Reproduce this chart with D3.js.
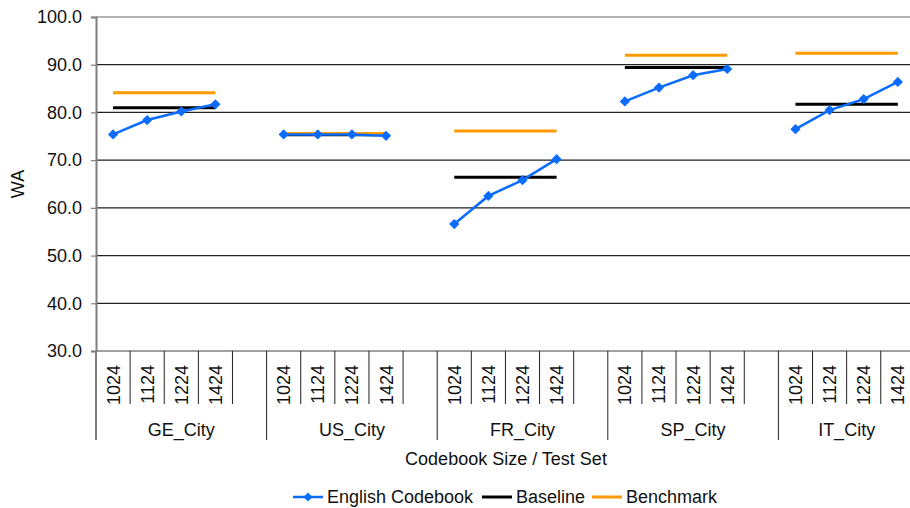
<!DOCTYPE html>
<html>
<head>
<meta charset="utf-8">
<script src="https://cdn.jsdelivr.net/npm/d3@7"></script>
<style>
  html, body { margin: 0; padding: 0; background: #fff; }
  svg { display: block; font-family: "Liberation Sans", Arial, Helvetica, sans-serif; }
</style>
</head>
<body>
<svg id="chart" width="910" height="508"></svg>
<script>
// Test sets and codebook sizes
const testSets = ["GE_City", "US_City", "FR_City", "SP_City", "IT_City"];
const codebookSizes = ["1024", "1124", "1224", "1424"];

// Word accuracy (WA) per test set, one value per codebook size
const englishCodebook = [
  [75.4, 78.4, 80.2, 81.7],
  [75.4, 75.4, 75.4, 75.1],
  [56.6, 62.5, 65.8, 70.2],
  [82.3, 85.2, 87.8, 89.1],
  [76.5, 80.5, 82.8, 86.4]
];
const baseline  = [81.0, 75.3, 66.4, 89.4, 81.7];
const benchmark = [84.1, 75.6, 76.1, 92.0, 92.4];

const yTicks = [30, 40, 50, 60, 70, 80, 90, 100];

(function () {
  const svg = d3.select("#chart");
  const FONT = 18;

  const plotLeft = 96, plotTop = 17, plotBottom = 351;
  const slotW = 34.12;

  // every slot key; an empty spacer slot separates consecutive groups
  const slotKeys = [];
  testSets.forEach((g, gi) => {
    codebookSizes.forEach(s => slotKeys.push(g + "|" + s));
    if (gi < testSets.length - 1) slotKeys.push(g + "|gap");
  });

  const x = d3.scaleBand()
    .domain(slotKeys)
    .range([plotLeft, plotLeft + slotKeys.length * slotW])
    .padding(0);

  const y = d3.scaleLinear().domain([30, 100]).range([plotBottom, plotTop]);
  const xc = (g, s) => x(g + "|" + s) + x.bandwidth() / 2;
  const plotRight = plotLeft + slotKeys.length * slotW;

  // horizontal gridlines
  svg.append("g").selectAll("line")
    .data(yTicks)
    .join("line")
    .attr("x1", plotLeft).attr("x2", plotRight)
    .attr("y1", d => y(d)).attr("y2", d => y(d))
    .attr("stroke", d => d === 100 ? "#b3b3b3" : (d === 30 ? "#444" : "#222"))
    .attr("stroke-width", d => d === 100 ? 2 : 1.2);

  // y axis
  const yAxis = d3.axisLeft(y)
    .tickValues(yTicks)
    .tickFormat(d3.format(".1f"))
    .tickSize(5)
    .tickPadding(9);
  const gy = svg.append("g").attr("transform", `translate(${plotLeft},0)`).call(yAxis);
  gy.select(".domain").attr("stroke", "#7f7f7f").attr("stroke-width", 2);
  gy.selectAll(".tick line").attr("stroke", "#7f7f7f").attr("stroke-width", 1.2);
  gy.selectAll(".tick text")
    .attr("font-size", FONT)
    .attr("font-family", "Liberation Sans, Arial, sans-serif")
    .attr("fill", "#111");

  svg.append("text")
    .attr("transform", `translate(24,184) rotate(-90)`)
    .attr("text-anchor", "middle")
    .attr("font-size", FONT)
    .attr("fill", "#111")
    .text("WA");

  // category axis: slot dividers, group dividers and labels
  const xAxisG = svg.append("g");
  slotKeys.forEach((k, i) => {
    const xb = x(k);
    const isGroupStart = k.endsWith("|" + codebookSizes[0]);
    xAxisG.append("line")
      .attr("x1", xb).attr("x2", xb)
      .attr("y1", plotBottom).attr("y2", isGroupStart ? 440 : 404)
      .attr("stroke", i === 0 ? "#7f7f7f" : "#222")
      .attr("stroke-width", i === 0 ? 2 : 1);
  });

  testSets.forEach((g, gi) => {
    codebookSizes.forEach(s => {
      xAxisG.append("text")
        .attr("transform", `translate(${xc(g, s) + 6.5},365) rotate(-90)`)
        .attr("text-anchor", "end")
        .attr("font-size", FONT)
        .attr("fill", "#111")
        .text(s);
    });
    const lastKey = gi < testSets.length - 1 ? g + "|gap" : g + "|" + codebookSizes[codebookSizes.length - 1];
    const gx0 = x(g + "|" + codebookSizes[0]);
    const gx1 = x(lastKey) + x.bandwidth();
    xAxisG.append("text")
      .attr("x", (gx0 + gx1) / 2)
      .attr("y", 436)
      .attr("text-anchor", "middle")
      .attr("font-size", FONT)
      .attr("fill", "#111")
      .text(g);
  });

  svg.append("text")
    .attr("x", 506).attr("y", 465)
    .attr("text-anchor", "middle")
    .attr("font-size", FONT)
    .attr("fill", "#111")
    .text("Codebook Size / Test Set");

  // series lines, one segment per test set
  const line = d3.line().x(d => d.x).y(d => d.y);

  const seriesPoints = vals => testSets.map((g, gi) =>
    codebookSizes.map((s, si) => ({
      x: xc(g, s),
      y: y(Array.isArray(vals[gi]) ? vals[gi][si] : vals[gi])
    }))
  );

  const orange = "#ff9a00";
  const blue = "#0a6cff";

  svg.append("g").selectAll("path")
    .data(seriesPoints(benchmark))
    .join("path")
    .attr("d", line)
    .attr("fill", "none")
    .attr("stroke", orange)
    .attr("stroke-width", 3);

  svg.append("g").selectAll("path")
    .data(seriesPoints(baseline))
    .join("path")
    .attr("d", line)
    .attr("fill", "none")
    .attr("stroke", "#000")
    .attr("stroke-width", 3);

  // benchmark stays on top where the two nearly coincide
  svg.append("g").selectAll("path")
    .data(seriesPoints(benchmark).filter((d, i) => benchmark[i] - baseline[i] < 1))
    .join("path")
    .attr("d", line)
    .attr("fill", "none")
    .attr("stroke", orange)
    .attr("stroke-width", 3);

  const eng = seriesPoints(englishCodebook);
  svg.append("g").selectAll("path")
    .data(eng)
    .join("path")
    .attr("d", line)
    .attr("fill", "none")
    .attr("stroke", blue)
    .attr("stroke-width", 2.5);

  svg.append("g").selectAll("path")
    .data(eng.flat())
    .join("path")
    .attr("transform", d => `translate(${d.x},${d.y}) rotate(45)`)
    .attr("d", d3.symbol().type(d3.symbolSquare).size(52))
    .attr("fill", blue);

  // legend
  const leg = svg.append("g");
  const ly = 497;
  const legendItems = [
    { label: "English Codebook", color: blue, x0: 293, marker: true },
    { label: "Baseline", color: "#000", x0: 482, marker: false },
    { label: "Benchmark", color: orange, x0: 592, marker: false }
  ];
  legendItems.forEach(it => {
    leg.append("line")
      .attr("x1", it.x0).attr("x2", it.x0 + 30)
      .attr("y1", ly).attr("y2", ly)
      .attr("stroke", it.color)
      .attr("stroke-width", it.marker ? 2.5 : 3);
    if (it.marker) {
      leg.append("path")
        .attr("transform", `translate(${it.x0 + 15},${ly}) rotate(45)`)
        .attr("d", d3.symbol().type(d3.symbolSquare).size(40))
        .attr("fill", it.color);
    }
    leg.append("text")
      .attr("x", it.x0 + 34)
      .attr("y", ly)
      .attr("dy", "0.35em")
      .attr("font-size", FONT)
      .attr("fill", "#111")
      .text(it.label);
  });
})();
</script>
</body>
</html>
